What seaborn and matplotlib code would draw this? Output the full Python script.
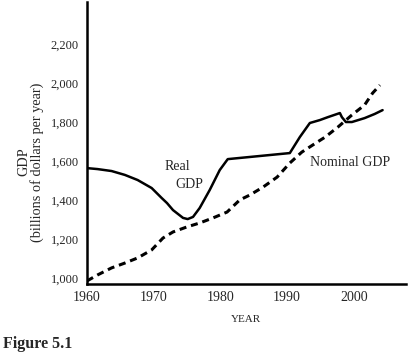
import seaborn as sns
import matplotlib.pyplot as plt
import pandas as pd
import numpy as np
import warnings
warnings.filterwarnings('ignore')

# values (years, billions of dollars per year)
real_years = [1960.0, 1961.6, 1963.7, 1965.7, 1967.6, 1969.7, 1971.2, 1972.0, 1972.9,
              1974.4, 1975.1, 1975.9, 1976.9, 1978.4, 1979.9, 1981.1, 1982.9, 1990.4,
              1991.9, 1993.4, 1994.9, 1996.1, 1997.9, 1998.2, 1998.8, 1999.7, 2001.6,
              2003.1, 2004.3]
real_gdp = [1565, 1560, 1550, 1530, 1504, 1463, 1412, 1386, 1350,
            1310, 1304, 1315, 1361, 1453, 1555, 1611, 1617, 1642,
            1724, 1796, 1811, 1826, 1847, 1826, 1801, 1801, 1821,
            1842, 1862]

nominal_years = [1960.0, 1961.6, 1963.7, 1965.7, 1967.6, 1969.7, 1971.4, 1972.9, 1975.0,
                 1976.9, 1978.9, 1981.0, 1982.9, 1984.4, 1986.4, 1988.5, 1990.4, 1992.2,
                 1994.5, 1995.7, 1997.6, 1999.7, 2001.6, 2002.8, 2003.9]
nominal_gdp = [987, 1018, 1054, 1079, 1105, 1146, 1207, 1238, 1264,
               1284, 1310, 1340, 1402, 1427, 1468, 1519, 1591, 1647,
               1698, 1724, 1775, 1837, 1888, 1949, 1990]

x_ticks = [1960, 1970, 1980, 1990, 2000]
y_ticks = [1000, 1200, 1400, 1600, 1800, 2000, 2200]
y_tick_labels = ["1,000", "1,200", "1,400", "1,600", "1,800", "2,000", "2,200"]

sns.set_style("white")
plt.rcParams['font.family'] = ['Liberation Serif', 'DejaVu Serif']

fig = plt.figure(figsize=(4.08, 3.54), dpi=100)
ax = fig.add_axes([0.213, 0.198, 0.782, 0.796])

real_df = pd.DataFrame({"year": real_years, "gdp": real_gdp})
nom_df = pd.DataFrame({"year": nominal_years, "gdp": nominal_gdp})

sns.lineplot(data=real_df, x="year", y="gdp", ax=ax, color="black", linewidth=1.8,
             solid_joinstyle="round", solid_capstyle="round")
sns.lineplot(data=nom_df, x="year", y="gdp", ax=ax, color="black", linewidth=2.2)
ax.lines[-1].set_dashes((2.3, 1.6))

ax.set_xlim(1960, 2007.8)
ax.set_ylim(972, 2415)

ax.set_xticks(x_ticks)
ax.set_xticklabels([str(t) for t in x_ticks], fontsize=10)
ax.set_yticks(y_ticks)
ax.set_yticklabels(y_tick_labels, fontsize=9)
ax.tick_params(axis="both", direction="in", length=7, width=1.5, color="black")
ax.tick_params(axis="y", pad=6)
ax.tick_params(axis="x", pad=5)

for side in ["top", "right"]:
    ax.spines[side].set_visible(False)
for side in ["left", "bottom"]:
    ax.spines[side].set_linewidth(1.8)
    ax.spines[side].set_color("black")

ax.set_xlabel("YEAR", fontsize=8, labelpad=8)
ax.set_ylabel("GDP\n(billions of dollars per year)", fontsize=10.3,
              multialignment="center", linespacing=1.0)
ax.yaxis.set_label_coords(-0.135, 0.433)

ax.text(1973.5, 1574, "Real", fontsize=10, ha="center", va="center")
ax.text(1975.3, 1480, "GDP", fontsize=10, ha="center", va="center")
ax.text(1999.4, 1592, "Nominal GDP", fontsize=10, ha="center", va="center")

fig.text(0.008, 0.028, "Figure 5.1", fontsize=11.5, fontweight="bold",
         ha="left", va="center")

plt.savefig("out.png", dpi=100)
